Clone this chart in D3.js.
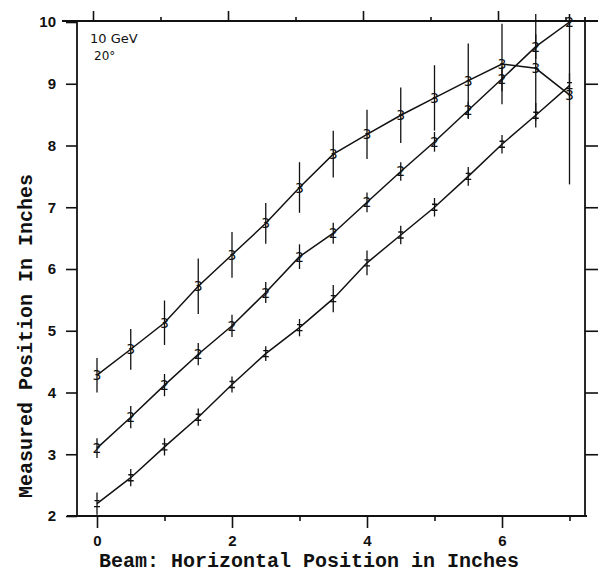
<!DOCTYPE html>
<html>
<head>
<meta charset="utf-8">
<script src="https://cdn.jsdelivr.net/npm/d3@7"></script>
<style>
  body { margin: 0; background: #fff; }
  svg { display: block; }
  .tick text { font-family: "Liberation Sans", Arial, sans-serif; font-weight: bold; font-size: 15px; fill: #111; }
  .tick line { stroke: #111; stroke-width: 1.6; }
  .frame { stroke: #111; stroke-width: 1.8; }
  .series { fill: none; stroke: #111; stroke-width: 1.5; }
  .err { stroke: #111; stroke-width: 1.3; }
  .cross { stroke: #111; stroke-width: 1.4; }
  .mark { font-family: "DejaVu Sans", sans-serif; font-size: 14px; fill: #111; text-anchor: middle; }
  .label { font-family: "Liberation Mono", "Courier New", monospace; font-weight: bold; font-size: 20px; fill: #111; }
  .note { font-family: "DejaVu Sans", sans-serif; font-size: 13px; fill: #111; }
</style>
</head>
<body>
<div id="chart"></div>
<script>
// beam positions (inches)
var beamX = [0, 0.5, 1, 1.5, 2, 2.5, 3, 3.5, 4, 4.5, 5, 5.5, 6, 6.5, 7];

// measured positions, one list per curve, with error half-widths
var series1 = [2.2, 2.62, 3.12, 3.6, 4.13, 4.63, 5.05, 5.52, 6.1, 6.55, 7.0, 7.5, 8.02, 8.49, 8.97];
var err1    = [0.18, 0.14, 0.14, 0.14, 0.13, 0.12, 0.14, 0.22, 0.2, 0.15, 0.15, 0.15, 0.15, 0.2, 0.2];

var series2 = [3.1, 3.6, 4.12, 4.62, 5.08, 5.62, 6.2, 6.58, 7.08, 7.58, 8.06, 8.57, 9.08, 9.6, 10.02];
var err2    = [0.16, 0.18, 0.18, 0.18, 0.18, 0.17, 0.2, 0.17, 0.16, 0.15, 0.16, 0.14, 0.2, 0.2, 0.1];

var series3 = [4.28, 4.7, 5.13, 5.72, 6.23, 6.74, 7.32, 7.86, 8.18, 8.49, 8.77, 9.05, 9.32, 9.25, 8.82];
var err3    = [0.28, 0.33, 0.36, 0.45, 0.37, 0.33, 0.41, 0.38, 0.4, 0.45, 0.53, 0.6, 0.65, 0.85, 1.45];

var yTicks = [2, 3, 4, 5, 6, 7, 8, 9, 10];
var xTicks = [0, 1, 2, 3, 4, 5, 6, 7];
var xTickLabels = [0, 2, 4, 6];

var width = 598, height = 574;

var svg = d3.select("#chart").append("svg")
    .attr("width", width)
    .attr("height", height);

var x = d3.scaleLinear().domain([0, 7]).range([97, 569.5]);
var y = d3.scaleLinear().domain([2, 10]).range([516, 22]).clamp(true);

// frame lines
var frame = [
  [62, 21, 598, 21],
  [67, 516, 587, 516],
  [77, 21, 77, 516],
  [585, 17, 585, 516]
];
svg.selectAll(".frame")
    .data(frame)
  .enter().append("line")
    .attr("class", "frame")
    .attr("x1", function(d) { return d[0]; })
    .attr("y1", function(d) { return d[1]; })
    .attr("x2", function(d) { return d[2]; })
    .attr("y2", function(d) { return d[3]; });

// left axis with labels
svg.append("g")
    .attr("transform", "translate(77,0)")
    .call(d3.axisLeft(y).tickValues(yTicks).tickSize(11).tickPadding(10))
    .call(function(g) { g.select(".domain").remove(); });

// right axis, ticks only
svg.append("g")
    .attr("transform", "translate(585,0)")
    .call(d3.axisRight(y).tickValues(yTicks.slice(1, -1)).tickSize(13).tickFormat(""))
    .call(function(g) { g.select(".domain").remove(); });

// bottom axis: long ticks on even, short on odd
svg.append("g")
    .attr("transform", "translate(0,516)")
    .call(d3.axisBottom(x).tickValues(xTicks).tickSize(12).tickPadding(7)
      .tickFormat(function(d) { return xTickLabels.indexOf(d) >= 0 ? d : ""; }))
    .call(function(g) {
      g.select(".domain").remove();
      g.selectAll(".tick line").attr("y2", function(d) { return d % 2 ? 5 : 12; });
    });

// top axis
svg.append("g")
    .attr("transform", "translate(-4,21)")
    .call(d3.axisTop(x).tickValues(xTicks).tickSize(10).tickFormat(""))
    .call(function(g) {
      g.select(".domain").remove();
      g.selectAll(".tick line").attr("y2", function(d) { return d % 2 ? -4 : -10; });
    });

var curves = [
  { values: series1, errs: err1, mark: null },
  { values: series2, errs: err2, mark: "2" },
  { values: series3, errs: err3, mark: "3" }
];

var line = d3.line()
    .x(function(d) { return x(d[0]); })
    .y(function(d) { return y(d[1]); });

curves.forEach(function(c) {
  var pts = beamX.map(function(b, i) { return [b, c.values[i], c.errs[i]]; });
  var g = svg.append("g");

  g.selectAll(".err")
      .data(pts)
    .enter().append("line")
      .attr("class", "err")
      .attr("x1", function(d) { return x(d[0]); })
      .attr("x2", function(d) { return x(d[0]); })
      .attr("y1", function(d) { return y(d[1] + d[2]) - (d[1] + d[2] > 10 ? 8 : 0); })
      .attr("y2", function(d) { return y(d[1] - d[2]); });

  g.append("path")
      .datum(pts)
      .attr("class", "series")
      .attr("d", line);

  if (c.mark) {
    g.selectAll(".mark")
        .data(pts)
      .enter().append("text")
        .attr("class", "mark")
        .attr("x", function(d) { return x(d[0]); })
        .attr("y", function(d) { return y(d[1]); })
        .attr("dy", "0.36em")
        .text(c.mark);
  } else {
    // curve 1 is marked with small hand-drawn crosses
    g.selectAll(".cross")
        .data(pts)
      .enter().append("path")
        .attr("class", "cross")
        .attr("d", function(d) {
          var px = x(d[0]), py = y(d[1]);
          return "M" + (px - 3) + "," + (py + 3) + "h6" +
                 "M" + (px - 2.5) + "," + (py - 3) + "h5";
        });
  }
});

// annotation
svg.append("text").attr("class", "note").attr("x", 90).attr("y", 43).text("10 GeV");
svg.append("text").attr("class", "note").attr("x", 94).attr("y", 60).style("font-size", "12px").text("20°");

// axis titles
svg.append("text")
    .attr("class", "label")
    .attr("x", 309)
    .attr("y", 567)
    .attr("text-anchor", "middle")
    .text("Beam: Horizontal Position in Inches");

svg.append("text")
    .attr("class", "label")
    .attr("transform", "translate(32,336) rotate(-90)")
    .attr("text-anchor", "middle")
    .text("Measured Position In Inches");
</script>
</body>
</html>
